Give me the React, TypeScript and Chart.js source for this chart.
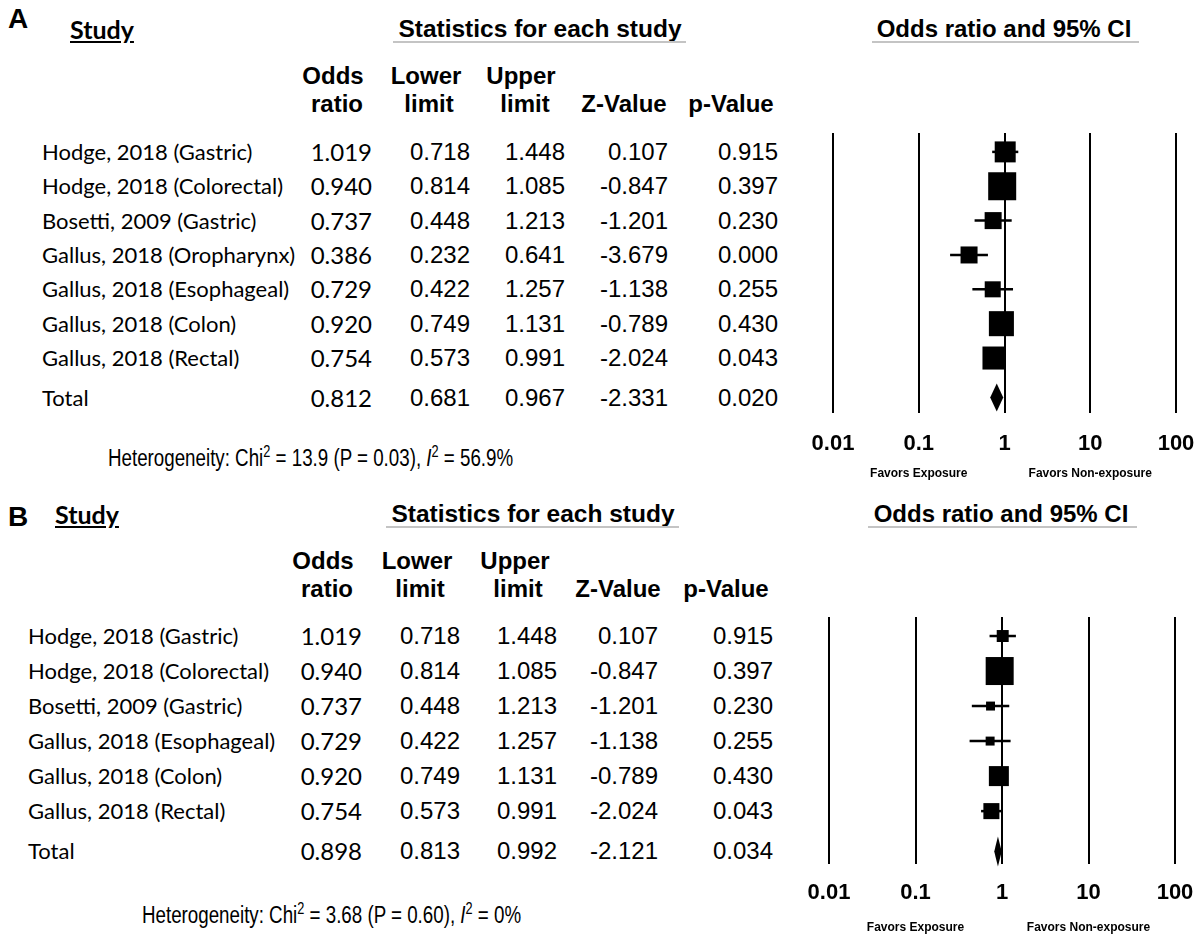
import React, { useEffect, useRef } from "react";
import { Chart, registerables } from "chart.js";
Chart.register(...registerables);

// ---------- DATA ----------
const studiesA = [
  "Hodge, 2018 (Gastric)",
  "Hodge, 2018 (Colorectal)",
  "Bosetti, 2009 (Gastric)",
  "Gallus, 2018 (Oropharynx)",
  "Gallus, 2018 (Esophageal)",
  "Gallus, 2018 (Colon)",
  "Gallus, 2018 (Rectal)",
];
const oddsA = [1.019, 0.94, 0.737, 0.386, 0.729, 0.92, 0.754];
const lowerA = [0.718, 0.814, 0.448, 0.232, 0.422, 0.749, 0.573];
const upperA = [1.448, 1.085, 1.213, 0.641, 1.257, 1.131, 0.991];
const zA = ["0.107", "-0.847", "-1.201", "-3.679", "-1.138", "-0.789", "-2.024"];
const pA = ["0.915", "0.397", "0.230", "0.000", "0.255", "0.430", "0.043"];
const weightsA = [13.7, 24.4, 9.0, 9.0, 8.0, 19.5, 16.5];
const totalA = { or: 0.812, lower: 0.681, upper: 0.967, z: "-2.331", p: "0.020" };
const hetA = { chi: "13.9", p: "0.03", i2: "56.9%" };

const studiesB = [
  "Hodge, 2018 (Gastric)",
  "Hodge, 2018 (Colorectal)",
  "Bosetti, 2009 (Gastric)",
  "Gallus, 2018 (Esophageal)",
  "Gallus, 2018 (Colon)",
  "Gallus, 2018 (Rectal)",
];
const oddsB = [1.019, 0.94, 0.737, 0.729, 0.92, 0.754];
const lowerB = [0.718, 0.814, 0.448, 0.422, 0.749, 0.573];
const upperB = [1.448, 1.085, 1.213, 1.257, 1.131, 0.991];
const zB = ["0.107", "-0.847", "-1.201", "-1.138", "-0.789", "-2.024"];
const pB = ["0.915", "0.397", "0.230", "0.255", "0.430", "0.043"];
const weightsB = [8.2, 44.9, 4.6, 4.6, 22.9, 14.7];
const totalB = { or: 0.898, lower: 0.813, upper: 0.992, z: "-2.121", p: "0.034" };
const hetB = { chi: "3.68", p: "0.60", i2: "0%" };

const tickValues = [0.01, 0.1, 1, 10, 100];
const tickLabels = ["0.01", "0.1", "1", "10", "100"];
const favorLabels = ["Favors Exposure", "Favors Non-exposure"];
const favorAt = [0.1, 10];

// ---------- LAYOUT ----------
const ARIAL = '"Liberation Sans", Arial, sans-serif';
const CAL = 'Lato, "Open Sans", sans-serif';

const layoutA = {
  letterY: 19, titleY: 29, lineY: 41, studyX: 70,
  statsC: 540, statsL: 393, statsR: 686, ciC: 1004, ciL: 872, ciR: 1139,
  h1Y: 76, h2Y: 104,
  hdr: { odds: [333, 337], lower: [426, 429], upper: [521, 525], z: 624, p: 731 },
  nameX: 42, orR: 372, lowR: 470, upR: 565, zR: 668, pR: 778,
  hetX: 108, hetY: 458, hetScale: 0.815,
  canvasLeft: 790, canvasTop: 108, canvasW: 426, canvasH: 377,
  padL: 43, padR: 40, padTop: 25, padBottom: 22, plotH: 280,
  ymin: 0.45, ymax: 8.6, sizeK: 5.67, diamondH: 14, favorDy: 61, tickPad: 18,
};
const layoutB = {
  letterY: 517, titleY: 514, lineY: 526, studyX: 55,
  statsC: 533, statsL: 386, statsR: 679, ciC: 1001, ciL: 868, ciR: 1137,
  h1Y: 561, h2Y: 589,
  hdr: { odds: [323, 327], lower: [417, 420], upper: [515, 518], z: 618, p: 726 },
  nameX: 28, orR: 362, lowR: 460, upR: 557, zR: 658, pR: 773,
  hetX: 142, hetY: 915, hetScale: 0.815,
  canvasLeft: 786, canvasTop: 592, canvasW: 429, canvasH: 343,
  padL: 43, padR: 40, padTop: 25, padBottom: 21, plotH: 247,
  ymin: 0.457, ymax: 7.51, sizeK: 4.18, diamondH: 15, favorDy: 64, tickPad: 16,
};

function T({ x, y, align = "left", font = ARIAL, size = 24, weight = 400, style = {}, children }: any) {
  const h = 40;
  const s: any = {
    position: "absolute", top: y - h / 2, height: h, lineHeight: h + "px",
    whiteSpace: "nowrap", fontFamily: font, fontSize: size, fontWeight: weight,
    color: "#000", ...style,
  };
  if (align === "left") s.left = x;
  else if (align === "right") s.right = 1200 - x;
  else { s.left = x - 300; s.width = 600; s.textAlign = "center"; }
  return <div style={s}>{children}</div>;
}

function Forest({ odds, lower, upper, weights, total, L }: any) {
  const ref = useRef<HTMLCanvasElement>(null);
  useEffect(() => {
    if (!ref.current) return;
    const rows = odds.map((_: number, i: number) => i + 1);
    const totalRow = odds.length + 1.15;
    const datasets: any[] = odds.map((_: number, i: number) => ({
      type: "scatter",
      data: [{ x: lower[i], y: rows[i] }, { x: upper[i], y: rows[i] }],
      showLine: true, borderColor: "#000", borderWidth: 2.5, pointRadius: 0, order: 2,
    }));
    datasets.push({
      type: "scatter",
      data: odds.map((v: number, i: number) => ({ x: v, y: rows[i] })),
      pointStyle: "rect",
      pointRadius: weights.map((w: number) => (L.sizeK * Math.sqrt(w)) / Math.SQRT2),
      backgroundColor: "#000", borderColor: "#000", borderWidth: 0, order: 1,
    });
    const extra = {
      id: "forestExtra",
      afterDatasetsDraw(chart: any) {
        const ctx = chart.ctx;
        const xs = chart.scales.x, ys = chart.scales.y;
        const yc = ys.getPixelForValue(totalRow);
        ctx.save();
        ctx.fillStyle = "#000";
        ctx.beginPath();
        ctx.moveTo(xs.getPixelForValue(total.lower), yc);
        ctx.lineTo(xs.getPixelForValue(total.or), yc - L.diamondH);
        ctx.lineTo(xs.getPixelForValue(total.upper), yc);
        ctx.lineTo(xs.getPixelForValue(total.or), yc + L.diamondH);
        ctx.closePath();
        ctx.fill();
        ctx.restore();
      },
      afterDraw(chart: any) {
        const ctx = chart.ctx;
        const xs = chart.scales.x;
        ctx.save();
        ctx.fillStyle = "#000";
        ctx.font = "bold 12px " + ARIAL;
        ctx.textAlign = "center";
        ctx.textBaseline = "middle";
        favorLabels.forEach((lab, i) => {
          ctx.fillText(lab, xs.getPixelForValue(favorAt[i]), chart.chartArea.bottom + L.favorDy);
        });
        ctx.restore();
      },
    };
    const chart = new Chart(ref.current, {
      type: "scatter",
      data: { datasets },
      plugins: [extra],
      options: {
        animation: false, responsive: false, maintainAspectRatio: false, devicePixelRatio: 1,
        layout: { autoPadding: false, padding: { left: L.padL, right: L.padR, top: L.padTop, bottom: L.padBottom } },
        plugins: { legend: { display: false }, tooltip: { enabled: false } },
        scales: {
          x: {
            type: "logarithmic", min: 0.01, max: 100, position: "bottom",
            afterBuildTicks: (s: any) => { s.ticks = tickValues.map((v) => ({ value: v })); },
            afterFit: (s: any) => { s.height = 50; },
            ticks: {
              callback: (_v: any, i: number) => tickLabels[i],
              font: { family: ARIAL, size: 22, weight: "bold" }, color: "#000",
              padding: L.tickPad, maxRotation: 0, autoSkip: false,
            },
            grid: { color: "#000", lineWidth: 2, drawTicks: false },
            border: { display: false },
          },
          y: { type: "linear", min: L.ymin, max: L.ymax, reverse: true, display: false },
        },
      } as any,
    });
    return () => chart.destroy();
  }, []);
  return (
    <canvas ref={ref} width={L.canvasW} height={L.canvasH}
      style={{ position: "absolute", left: L.canvasLeft, top: L.canvasTop, width: L.canvasW, height: L.canvasH }} />
  );
}

const supStyle = { fontSize: "0.68em", verticalAlign: "super", lineHeight: 0 } as any;

function Panel({ letter, studies, odds, lower, upper, z, p, weights, total, het, L }: any) {
  const rowY = (r: number) => L.canvasTop + L.padTop + ((r - L.ymin) / (L.ymax - L.ymin)) * L.plotH;
  const totalRow = studies.length + 1.15;
  const numRow = (y: number, o: number, lo: number, up: number, zz: string, pp: string) => (
    <>
      <T x={L.orR} y={y} align="right" font={CAL} size={24}>{o.toFixed(3)}</T>
      <T x={L.lowR} y={y} align="right">{lo.toFixed(3)}</T>
      <T x={L.upR} y={y} align="right">{up.toFixed(3)}</T>
      <T x={L.zR} y={y} align="right">{zz}</T>
      <T x={L.pR} y={y} align="right">{pp}</T>
    </>
  );
  return (
    <>
      <T x={8} y={L.letterY} size={28} weight={700}>{letter}</T>
      <T x={L.studyX} y={L.titleY} font={CAL} size={25} weight={700} style={{ textDecoration: "underline" }}>Study</T>
      <T x={L.statsC} y={L.titleY} align="center" size={24.5} weight={700}>Statistics for each study</T>
      <div style={{ position: "absolute", left: L.statsL, top: L.lineY, width: L.statsR - L.statsL, height: 2, background: "#c4c4c4" }} />
      <T x={L.ciC} y={L.titleY} align="center" weight={700}>Odds ratio and 95% CI</T>
      <div style={{ position: "absolute", left: L.ciL, top: L.lineY, width: L.ciR - L.ciL, height: 2, background: "#c4c4c4" }} />
      <T x={L.hdr.odds[0]} y={L.h1Y} align="center" weight={700}>Odds</T>
      <T x={L.hdr.odds[1]} y={L.h2Y} align="center" weight={700}>ratio</T>
      <T x={L.hdr.lower[0]} y={L.h1Y} align="center" weight={700}>Lower</T>
      <T x={L.hdr.lower[1]} y={L.h2Y} align="center" weight={700}>limit</T>
      <T x={L.hdr.upper[0]} y={L.h1Y} align="center" weight={700}>Upper</T>
      <T x={L.hdr.upper[1]} y={L.h2Y} align="center" weight={700}>limit</T>
      <T x={L.hdr.z} y={L.h2Y} align="center" weight={700}>Z-Value</T>
      <T x={L.hdr.p} y={L.h2Y} align="center" weight={700}>p-Value</T>
      {studies.map((s: string, i: number) => (
        <React.Fragment key={i}>
          <T x={L.nameX} y={rowY(i + 1)} font={CAL} size={22}>{s}</T>
          {numRow(rowY(i + 1), odds[i], lower[i], upper[i], z[i], p[i])}
        </React.Fragment>
      ))}
      <T x={L.nameX} y={rowY(totalRow)} font={CAL} size={22}>Total</T>
      {numRow(rowY(totalRow), total.or, total.lower, total.upper, total.z, total.p)}
      <T x={L.hetX} y={L.hetY} size={23} style={{ transform: `scaleX(${L.hetScale})`, transformOrigin: "left center" }}>
        Heterogeneity: Chi<span style={supStyle}>2</span> = {het.chi} (P = {het.p}), <i>I</i>
        <span style={supStyle}>2</span> = {het.i2}
      </T>
      <Forest odds={odds} lower={lower} upper={upper} weights={weights} total={total} L={L} />
    </>
  );
}

export default function App() {
  return (
    <div style={{ position: "absolute", left: 0, top: 0, width: 1200, height: 941, background: "#fff", overflow: "hidden" }}>
      <Panel letter="A" studies={studiesA} odds={oddsA} lower={lowerA} upper={upperA} z={zA} p={pA}
        weights={weightsA} total={totalA} het={hetA} L={layoutA} />
      <Panel letter="B" studies={studiesB} odds={oddsB} lower={lowerB} upper={upperB} z={zB} p={pB}
        weights={weightsB} total={totalB} het={hetB} L={layoutB} />
    </div>
  );
}
